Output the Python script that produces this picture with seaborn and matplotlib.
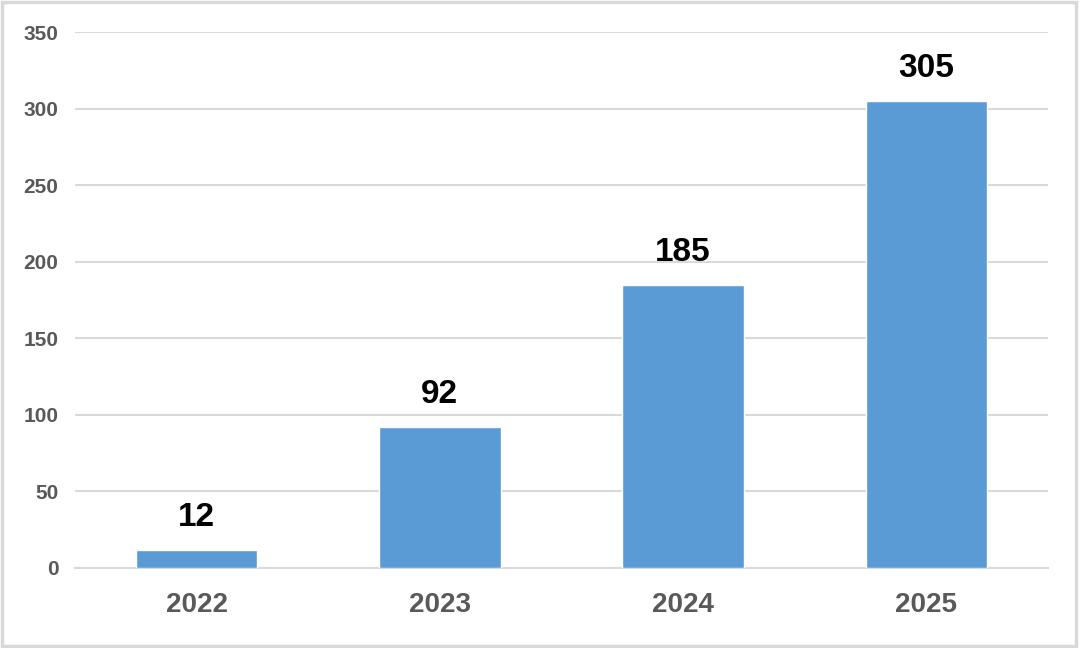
import matplotlib
matplotlib.use("Agg")
import matplotlib.pyplot as plt
import seaborn as sns
import pandas as pd
from matplotlib.patches import Rectangle

years = ["2022", "2023", "2024", "2025"]
values = [12, 92, 185, 305]
y_ticks = [0, 50, 100, 150, 200, 250, 300, 350]

sns.set_theme(style="white")
plt.rcParams['font.family'] = ['Liberation Sans', 'DejaVu Sans']

df = pd.DataFrame({"year": years, "value": values})

fig = plt.figure(figsize=(10.8, 6.48), dpi=100)
ax = fig.add_axes([0.0694, 0.1235, 0.9010, 0.8271])

sns.barplot(data=df, x="year", y="value", color="#5B9BD5", saturation=1,
            width=0.5, ax=ax, zorder=3)

ax.set_xlim(-0.5, 3.5)
ax.set_ylim(0, 350)
ax.set_yticks(y_ticks)
ax.set_yticklabels([str(t) for t in y_ticks])
ax.yaxis.grid(True, color="#D9D9D9", linewidth=1.5, zorder=0)
ax.xaxis.grid(False)
for s in ["top", "right", "left"]:
    ax.spines[s].set_visible(False)
ax.spines["bottom"].set_color("#D9D9D9")
ax.spines["bottom"].set_linewidth(1.5)
ax.set_xlabel("")
ax.set_ylabel("")
ax.tick_params(axis="y", length=0, pad=12, labelsize=15, labelcolor="#595959")
ax.tick_params(axis="x", length=0, pad=17, labelsize=20, labelcolor="#595959")
for lab in ax.get_yticklabels() + ax.get_xticklabels():
    lab.set_fontweight("bold")

for i, v in enumerate(values):
    ax.annotate(str(v), xy=(i, v), xytext=(0, 12), textcoords="offset points",
                ha="center", va="bottom", fontsize=24, fontweight="bold", color="black")

fig.patches.append(Rectangle((0.0015, 0.0025), 0.995, 0.995, transform=fig.transFigure,
                             fill=False, edgecolor="#D9D9D9", linewidth=2.5))

fig.savefig("out.png", dpi=100, facecolor="white")
